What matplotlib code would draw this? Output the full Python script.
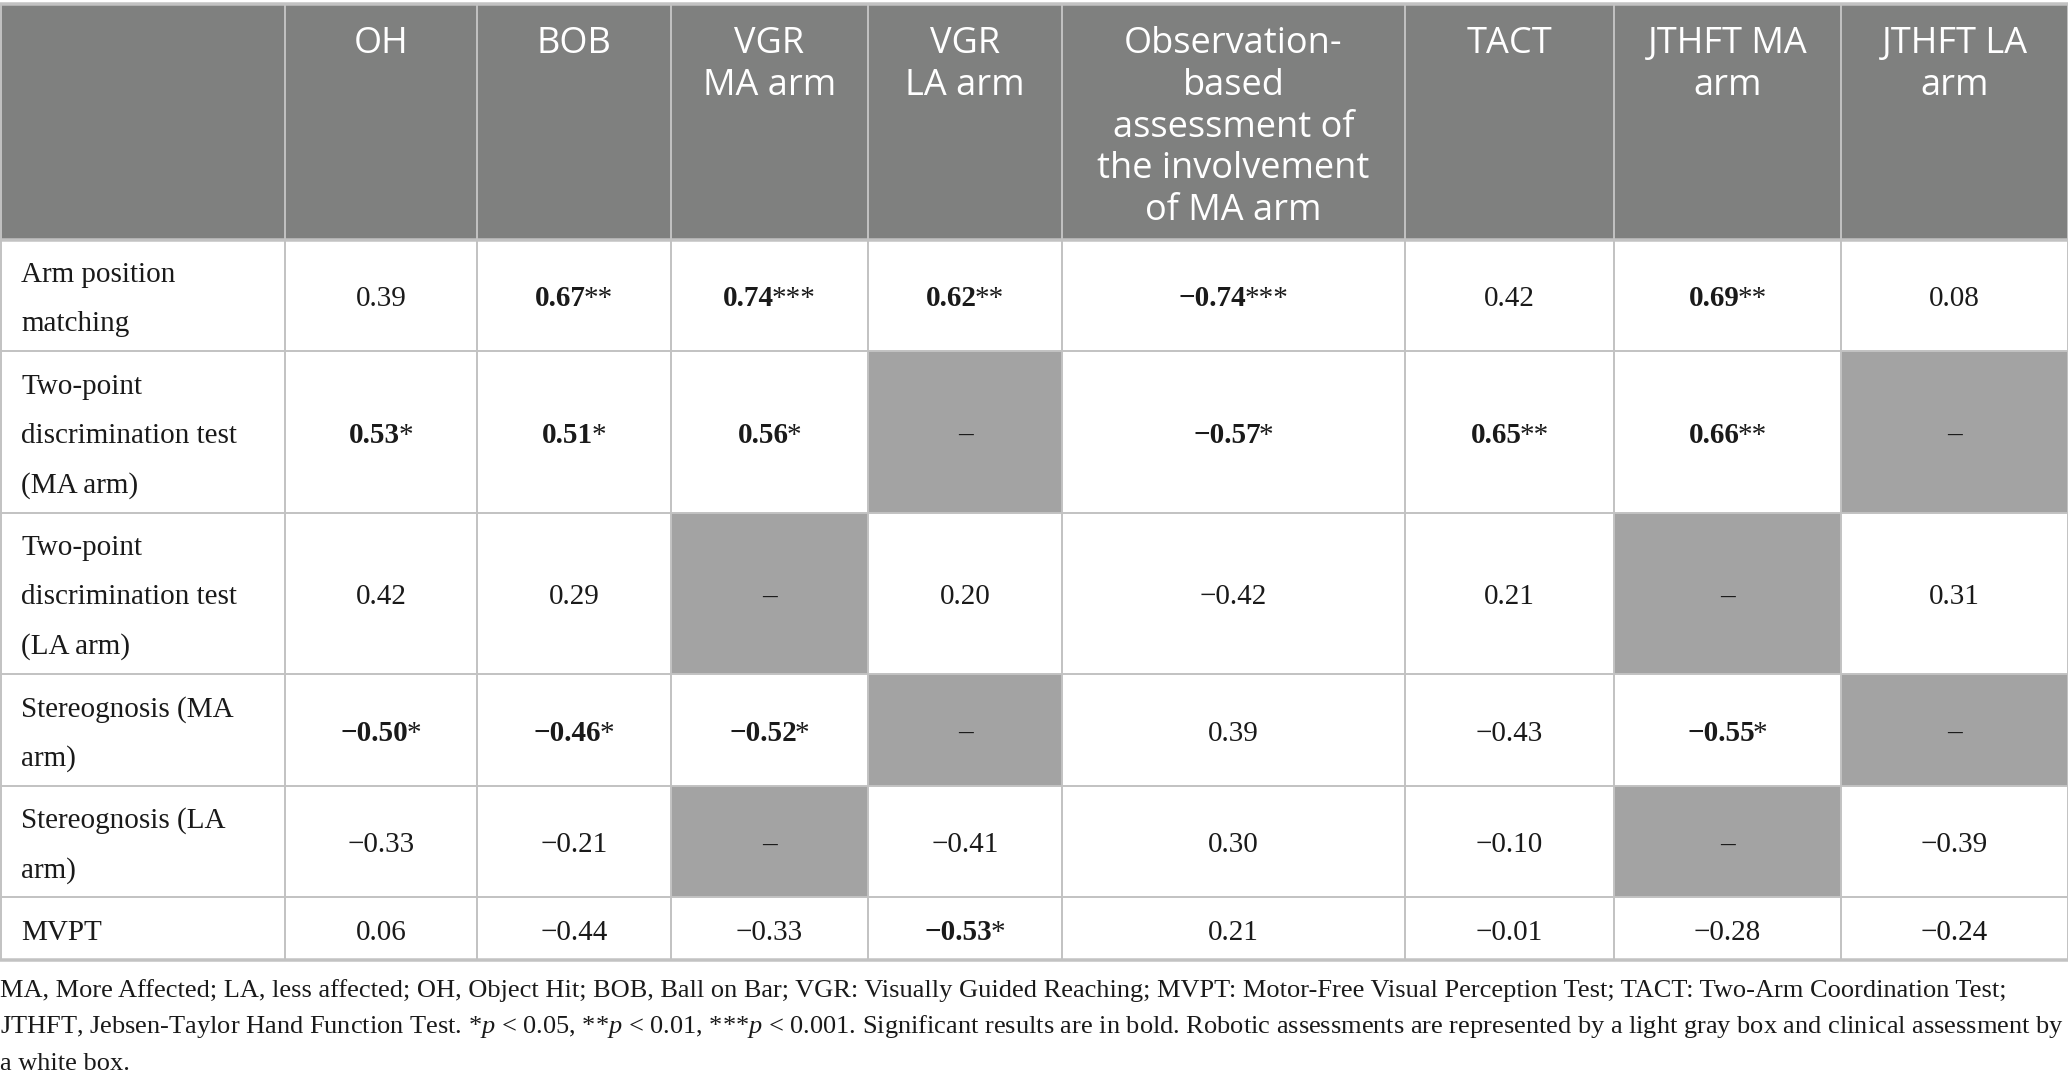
import matplotlib
matplotlib.use("Agg")
import matplotlib.pyplot as plt
from matplotlib.patches import Rectangle

plt.rcParams['mathtext.fontset'] = 'custom'
plt.rcParams['mathtext.rm'] = 'Liberation Serif'
plt.rcParams['mathtext.it'] = 'Liberation Serif:italic'
plt.rcParams['mathtext.bf'] = 'Liberation Serif:bold'

# ---------------- data ----------------
col_labels = ["OH", "BOB", "VGR\nMA arm", "VGR\nLA arm",
              "Observation-\nbased\nassessment of\nthe involvement\nof MA arm",
              "TACT", "JTHFT MA\narm", "JTHFT LA\narm"]
row_labels = ["Arm position\nmatching",
              "Two-point\ndiscrimination test\n(MA arm)",
              "Two-point\ndiscrimination test\n(LA arm)",
              "Stereognosis (MA\narm)",
              "Stereognosis (LA\narm)",
              "MVPT"]
N = None
r_values = [
    [0.39, 0.67, 0.74, 0.62, -0.74, 0.42, 0.69, 0.08],
    [0.53, 0.51, 0.56, N, -0.57, 0.65, 0.66, N],
    [0.42, 0.29, N, 0.20, -0.42, 0.21, N, 0.31],
    [-0.50, -0.46, -0.52, N, 0.39, -0.43, -0.55, N],
    [-0.33, -0.21, N, -0.41, 0.30, -0.10, N, -0.39],
    [0.06, -0.44, -0.33, -0.53, 0.21, -0.01, -0.28, -0.24],
]
stars = [
    [0, 2, 3, 2, 3, 0, 2, 0],
    [1, 1, 1, 0, 1, 2, 2, 0],
    [0, 0, 0, 0, 0, 0, 0, 0],
    [1, 1, 1, 0, 0, 0, 1, 0],
    [0, 0, 0, 0, 0, 0, 0, 0],
    [0, 0, 0, 1, 0, 0, 0, 0],
]
footnote_lines = [
    "MA, More Affected; LA, less affected; OH, Object Hit; BOB, Ball on Bar; VGR: Visually Guided Reaching; MVPT: Motor-Free Visual Perception Test; TACT: Two-Arm Coordination Test;",
    r"JTHFT, Jebsen-Taylor Hand Function Test. *$\mathit{p}$ < 0.05, **$\mathit{p}$ < 0.01, ***$\mathit{p}$ < 0.001. Significant results are in bold. Robotic assessments are represented by a light gray box and clinical assessment by",
    "a white box.",
]

# ---------------- layout ----------------
W, H = 2068, 1086
col_edges = [0, 285, 477, 671, 868, 1062, 1405, 1614, 1841, 2068]
row_edges = [4, 240, 351, 513, 674, 786, 897, 960]

HEADER_BG = "#7f807f"
ROBOT_BG = "#a3a3a3"
LINE = "#c2c2c2"
TEXT = "#1a1a1a"

fig = plt.figure(figsize=(W / 100, H / 100), dpi=100)
ax = fig.add_axes([0, 0, 1, 1])
ax.set_xlim(0, W)
ax.set_ylim(H, 0)
ax.axis("off")
fig.patch.set_facecolor("white")

# header background
ax.add_patch(Rectangle((0, row_edges[0]), W, row_edges[1] - row_edges[0],
                       facecolor=HEADER_BG, edgecolor="none", zorder=1))
# robotic (empty) cells
for i, row in enumerate(r_values):
    for j, v in enumerate(row):
        if v is None:
            x0, x1 = col_edges[j + 1], col_edges[j + 2]
            y0, y1 = row_edges[i + 1], row_edges[i + 2]
            ax.add_patch(Rectangle((x0, y0), x1 - x0, y1 - y0,
                                   facecolor=ROBOT_BG, edgecolor="none", zorder=1))

# grid lines
lw = 1.4
for k, y in enumerate(row_edges):
    thick = lw * (1.8 if k in (0, 1, len(row_edges) - 1) else 1.0)
    ax.plot([0, W], [y, y], color=LINE, lw=thick, zorder=3, solid_capstyle="butt")
for x in col_edges[1:-1]:
    ax.plot([x, x], [row_edges[0], row_edges[-1]], color=LINE, lw=lw, zorder=3,
            solid_capstyle="butt")
ax.plot([0.5, 0.5], [row_edges[0], row_edges[-1]], color=LINE, lw=lw, zorder=3)
ax.plot([W - 0.5, W - 0.5], [row_edges[0], row_edges[-1]], color=LINE, lw=lw, zorder=3)

# header texts
hdr_font = dict(family=["Open Sans", "DejaVu Sans"], fontsize=26, color="white",
                fontweight="normal")
for j, lab in enumerate(col_labels):
    cx = (col_edges[j + 1] + col_edges[j + 2]) / 2
    for k, line in enumerate(lab.split("\n")):
        ax.text(cx, 53 + k * 41.8, line, ha="center", va="baseline", zorder=5, **hdr_font)

body_font = dict(family=["Liberation Serif", "DejaVu Serif"], fontsize=21, color=TEXT)

# row labels
for i, lab in enumerate(row_labels):
    cy = (row_edges[i + 1] + row_edges[i + 2]) / 2
    lines = lab.split("\n")
    n = len(lines)
    for k, line in enumerate(lines):
        ax.text(21, cy + 11 + (k - (n - 1) / 2) * 49.5, line, ha="left",
                va="baseline", zorder=5, **body_font)

# values
fig.canvas.draw()
renderer = fig.canvas.get_renderer()

def fmt(v):
    s = f"{abs(v):.2f}"
    return ("\u2212" + s) if v < 0 else s

for i, row in enumerate(r_values):
    cy = (row_edges[i + 1] + row_edges[i + 2]) / 2 + 11
    for j, v in enumerate(row):
        cx = (col_edges[j + 1] + col_edges[j + 2]) / 2
        if v is None:
            ax.text(cx, cy, "\u2013", ha="center", va="baseline", zorder=5, **body_font)
            continue
        num = fmt(v)
        st = "*" * stars[i][j]
        if st:
            t1 = ax.text(0, cy, num, ha="left", va="baseline", zorder=5,
                         fontweight="bold", **body_font)
            t2 = ax.text(0, cy, st, ha="left", va="baseline", zorder=5, **body_font)
            w1 = t1.get_window_extent(renderer).width
            w2 = t2.get_window_extent(renderer).width
            gap = -2
            x0 = cx - (w1 + w2 + gap) / 2
            t1.set_x(x0)
            t2.set_x(x0 + w1 + gap)
        else:
            ax.text(cx, cy, num, ha="center", va="baseline", zorder=5, **body_font)

# footnote
foot_font = dict(family=["Liberation Serif", "DejaVu Serif"], fontsize=19, color=TEXT)
for k, line in enumerate(footnote_lines):
    ax.text(0, 997 + k * 36.5, line, ha="left", va="baseline", zorder=5, **foot_font)

fig.savefig("out.png", dpi=100, facecolor="white")
